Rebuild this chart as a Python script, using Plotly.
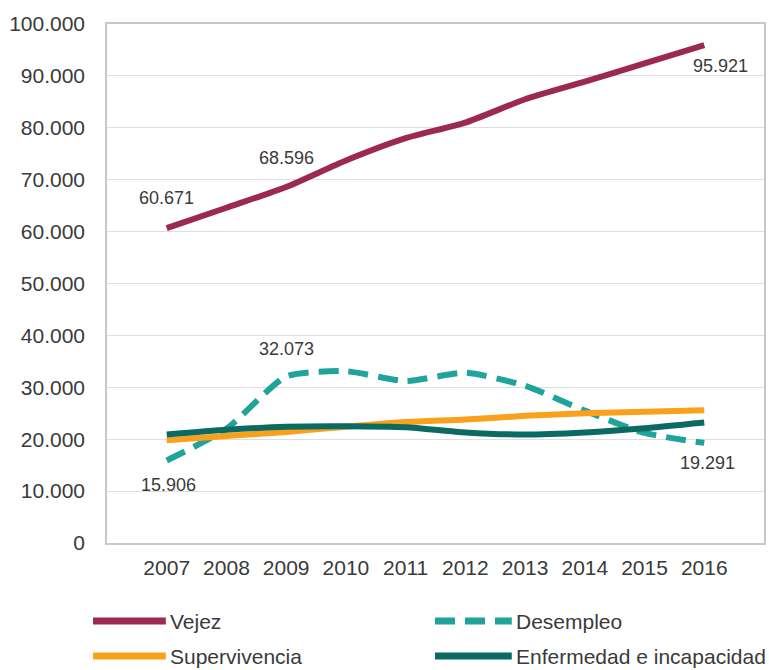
import plotly.graph_objects as go

years = [2007, 2008, 2009, 2010, 2011, 2012, 2013, 2014, 2015, 2016]

vejez = [60671, 64600, 68596, 73700, 78000, 81000, 85500, 88900, 92400, 95921]
desempleo = [15906, 22000, 32073, 33100, 31200, 32800, 30300, 25500, 21200, 19291]
supervivencia = [19800, 20600, 21400, 22400, 23300, 23800, 24500, 25000, 25300, 25600]
enfermedad = [20900, 21800, 22400, 22500, 22300, 21300, 20900, 21300, 22100, 23200]

series = [
    ("Vejez", vejez, "#9b2a4e", "solid"),
    ("Desempleo", desempleo, "#1fa39b", "20px,10px"),
    ("Supervivencia", supervivencia, "#f9a11b", "solid"),
    ("Enfermedad e incapacidad", enfermedad, "#0b6b63", "solid"),
]

# value labels: (series values, index, xshift, yshift)
labels = [
    (vejez, 0, 0, 30),
    (vejez, 2, 0, 29),
    (vejez, 9, 16, -21),
    (desempleo, 0, 2, -25),
    (desempleo, 2, 0, 28),
    (desempleo, 9, 3, -20),
]

FONT = "Liberation Sans, Arial, sans-serif"
TXT = "#3a3a3a"

W, H = 769, 670
L, R, T, B = 107, 3, 24, 127

fig = go.Figure()
for name, vals, color, dash in series:
    fig.add_trace(
        go.Scatter(
            x=years,
            y=vals,
            name=name,
            mode="lines",
            line=dict(color=color, width=6, dash=dash, shape="spline", smoothing=0.6),
            showlegend=False,
        )
    )

annotations = []
for vals, i, dx, dy in labels:
    annotations.append(
        dict(
            x=years[i],
            y=vals[i],
            text=f"{vals[i]:,}".replace(",", "."),
            showarrow=False,
            xshift=dx,
            yshift=dy,
            font=dict(size=18, color=TXT, family=FONT),
        )
    )

# manual legend, pixel positions converted to paper coords
pw, ph = W - L - R, H - T - B


def px_x(p):
    return (p - L) / pw


def px_y(p):
    return (H - B - p) / ph


legend_items = [
    (series[0], 93, 166, 621),
    (series[1], 436, 513, 621),
    (series[2], 93, 166, 656),
    (series[3], 436, 513, 656),
]
shapes = []
for (name, _, color, dash), x0, x1, y in legend_items:
    shapes.append(
        dict(
            type="line",
            xref="paper",
            yref="paper",
            x0=px_x(x0),
            x1=px_x(x1),
            y0=px_y(y),
            y1=px_y(y),
            line=dict(color=color, width=7, dash=dash),
        )
    )
    annotations.append(
        dict(
            xref="paper",
            yref="paper",
            x=px_x(x1 + 2),
            y=px_y(y),
            xanchor="left",
            yanchor="middle",
            text=name,
            showarrow=False,
            font=dict(size=21, color=TXT, family=FONT),
        )
    )

fig.update_layout(
    width=W,
    height=H,
    margin=dict(l=L, r=R, t=T, b=B),
    plot_bgcolor="white",
    paper_bgcolor="white",
    separators=",.",
    font=dict(family=FONT, size=21, color=TXT),
    annotations=annotations,
    shapes=shapes,
    showlegend=False,
)
fig.update_xaxes(
    range=[2006, 2017],
    tickvals=years,
    ticktext=[str(y) for y in years],
    showgrid=False,
    zeroline=False,
    showline=True,
    linecolor="#c8c8c8",
    linewidth=1.5,
    mirror=True,
    ticks="",
    ticklabelstandoff=5,
    tickfont=dict(size=21, color=TXT),
)
fig.update_yaxes(
    range=[0, 100000],
    dtick=10000,
    tickformat=",d",
    showgrid=True,
    gridcolor="#dedede",
    gridwidth=1,
    zeroline=False,
    showline=True,
    linecolor="#c8c8c8",
    linewidth=1.5,
    mirror=True,
    ticks="",
    ticklabelstandoff=16,
    tickfont=dict(size=21, color=TXT),
)

# drop the default 8px body margin so the figure sits at the window origin
fig.write_html(
    "out.html",
    config={"displayModeBar": False},
    post_script="document.body.style.margin='0';document.body.style.overflow='hidden';",
)
